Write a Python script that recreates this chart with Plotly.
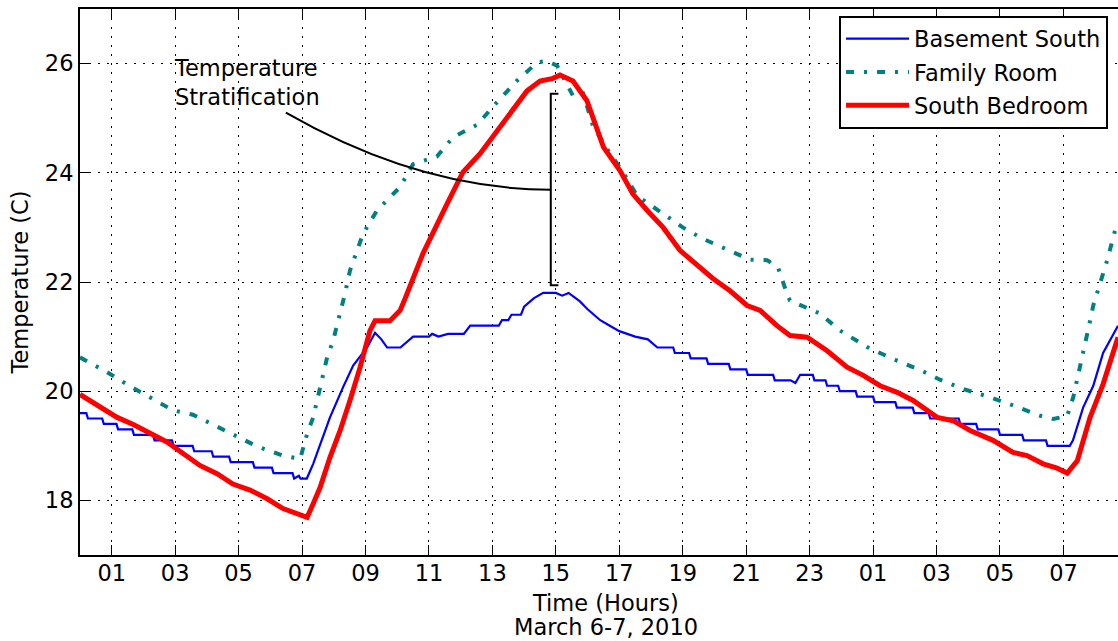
import plotly.graph_objects as go

# ---- Data: hours since midnight March 6, temperatures in deg C ----
basement_hours = [0.0, 0.2, 0.25, 0.7, 0.75, 1.15, 1.2, 1.65, 1.7, 2.3, 2.35, 2.9, 2.95, 3.55,
                  3.6, 4.15, 4.2, 4.7, 4.75, 5.45, 5.5, 6.05, 6.1, 6.7, 6.75, 6.9, 6.95, 7.15,
                  7.35, 7.57, 7.88, 8.29, 8.61, 9.05, 9.3, 9.5, 9.68, 10.1, 10.3, 10.5, 11.0,
                  11.1, 11.3, 11.6, 12.1, 12.3, 13.2, 13.3, 13.5, 13.6, 13.9, 14.0, 14.3, 14.6,
                  15.0, 15.2, 15.4, 15.75, 16.0, 16.4, 16.7, 17.0, 17.5, 17.9, 18.2, 18.7,
                  18.75, 19.2, 19.25, 19.75, 19.8, 20.45, 20.5, 21.0, 21.05, 21.85, 21.9, 22.4,
                  22.55, 22.7, 23.1, 23.15, 23.5, 23.55, 23.9, 23.95, 24.45, 24.5, 25.0, 25.05,
                  25.7, 25.75, 26.25, 26.3, 26.75, 26.8, 27.7, 27.75, 28.25, 28.3, 28.95, 29.0,
                  29.7, 29.75, 30.45, 30.5, 31.2, 31.3, 31.62, 31.94, 32.25, 32.72]
basement_temp = [19.6, 19.6, 19.5, 19.5, 19.4, 19.4, 19.3, 19.3, 19.2, 19.2, 19.1, 19.1, 19.0, 19.0,
                 18.9, 18.9, 18.8, 18.8, 18.7, 18.7, 18.6, 18.6, 18.5, 18.5, 18.4, 18.45, 18.4, 18.4,
                 18.67, 19.04, 19.52, 20.07, 20.47, 20.8, 21.07, 20.95, 20.8, 20.8, 20.9, 21.0, 21.0,
                 21.05, 21.0, 21.05, 21.05, 21.2, 21.2, 21.3, 21.3, 21.4, 21.4, 21.55, 21.7, 21.8,
                 21.8, 21.75, 21.8, 21.65, 21.5, 21.3, 21.2, 21.1, 21.0, 20.95, 20.8, 20.8,
                 20.7, 20.7, 20.6, 20.6, 20.5, 20.5, 20.4, 20.4, 20.3, 20.3, 20.2, 20.2,
                 20.15, 20.3, 20.3, 20.2, 20.2, 20.1, 20.1, 20.0, 20.0, 19.9, 19.9, 19.8,
                 19.8, 19.7, 19.7, 19.6, 19.6, 19.5, 19.5, 19.4, 19.4, 19.3, 19.3, 19.2,
                 19.2, 19.1, 19.1, 19.0, 19.0, 19.1, 19.7, 20.1, 20.7, 21.2]

family_hours = [0.0, 0.85, 1.58, 2.21, 2.93, 3.56, 4.32, 4.82, 5.58, 6.4, 6.94, 7.16, 7.35, 7.57,
                7.79, 7.98, 8.2, 8.35, 8.51, 8.92, 9.36, 10.09, 10.5, 11.25, 11.76, 12.52, 13.14,
                13.78, 14.41, 14.72, 15.04, 15.54, 15.86, 16.17, 16.71, 17.09, 17.56, 18.28, 19.0,
                19.64, 20.33, 21.12, 21.66, 22.0, 22.32, 22.38, 23.33, 23.96, 24.81, 25.63, 26.48,
                27.11, 27.84, 28.69, 29.41, 30.27, 30.68, 31.12, 31.31, 31.53, 31.84, 31.94,
                32.38, 32.63, 32.72]
family_temp = [20.62, 20.35, 20.09, 19.89, 19.65, 19.57, 19.35, 19.19, 18.99, 18.82, 18.76, 19.22,
               19.52, 20.07, 20.62, 20.93, 21.42, 21.78, 22.21, 22.88, 23.31, 23.74, 24.16, 24.3,
               24.65, 24.88, 25.29, 25.69, 26.02, 26.05, 25.96, 25.41, 25.45, 24.86, 24.35, 24.04,
               23.58, 23.28, 23.0, 22.79, 22.61, 22.41, 22.4, 22.27, 21.73, 21.66, 21.42, 21.11,
               20.81, 20.59, 20.39, 20.21, 20.04, 19.89, 19.74, 19.55, 19.49, 19.55, 19.89,
               20.44, 21.29, 21.57, 22.4, 22.95, 23.05]

bedroom_hours = [0.0, 0.63, 1.17, 1.68, 2.21, 2.74, 3.25, 3.78, 4.32, 4.82, 5.36, 5.9, 6.4, 6.94,
                 7.16, 7.35, 7.57, 7.88, 8.2, 8.51, 8.83, 9.14, 9.3, 9.77, 10.09, 10.25, 10.81,
                 11.57, 12.07, 12.61, 13.14, 13.65, 14.09, 14.5, 14.91, 15.13, 15.54, 15.98,
                 16.3, 16.5, 17.02, 17.43, 17.88, 18.38, 18.91, 19.45, 19.96, 20.49, 21.03,
                 21.44, 21.97, 22.38, 22.92, 23.55, 24.18, 24.69, 25.22, 25.76, 26.26, 27.02,
                 27.52, 28.06, 28.78, 29.41, 29.85, 30.36, 30.8, 31.12, 31.44, 31.84, 32.25, 32.72]
bedroom_temp = [19.94, 19.71, 19.52, 19.39, 19.22, 19.07, 18.86, 18.64, 18.49, 18.3, 18.19, 18.03,
                17.85, 17.75, 17.69, 17.94, 18.24, 18.79, 19.28, 19.83, 20.44, 21.11, 21.29, 21.29,
                21.48, 21.7, 22.52, 23.43, 24.01, 24.35, 24.77, 25.17, 25.5, 25.68, 25.73, 25.79,
                25.68, 25.32, 24.83, 24.47, 24.04, 23.61, 23.31, 23.0, 22.58, 22.31, 22.06, 21.84,
                21.57, 21.48, 21.2, 21.02, 20.99, 20.74, 20.44, 20.29, 20.1, 19.98, 19.83, 19.52,
                19.46, 19.28, 19.1, 18.88, 18.82, 18.67, 18.59, 18.5, 18.73, 19.52, 20.13, 20.99]

tick_hours = [1, 3, 5, 7, 9, 11, 13, 15, 17, 19, 21, 23, 25, 27, 29, 31]
tick_labels = ["01", "03", "05", "07", "09", "11", "13", "15", "17", "19", "21", "23",
               "01", "03", "05", "07"]
temp_ticks = [18, 20, 22, 24, 26]

FONT = "DejaVu Sans"
FS = 22.5
txt = dict(family=FONT, size=FS, color="black")

fig = go.Figure()
fig.add_trace(go.Scatter(x=basement_hours, y=basement_temp, mode="lines",
                         name="Basement South", legendgroup="a",
                         line=dict(color="#0000ff", width=2.2)))
fig.add_trace(go.Scatter(x=family_hours, y=family_temp, mode="lines",
                         name="Family Room", legendgroup="b",
                         line=dict(color="#008080", width=4, dash="8px,10px,3px,10px")))
fig.add_trace(go.Scatter(x=bedroom_hours, y=bedroom_temp, mode="lines",
                         name="South Bedroom", legendgroup="c",
                         line=dict(color="#ff0000", width=5)))

# Bracket spanning the gap between the warmest and coolest rooms at mid-afternoon
bracket_x, bracket_cap_x = 14.84, 15.08
bracket_low, bracket_high = 21.94, 25.45
curve_start = (6.49, 25.10)
curve_ctrl = (10.72, 23.69)
curve_end = (14.84, 23.69)

shapes = [
    dict(type="path", xref="x", yref="y",
         path=f"M{bracket_cap_x},{bracket_high} L{bracket_x},{bracket_high} "
              f"L{bracket_x},{bracket_low} L{bracket_cap_x},{bracket_low}",
         line=dict(color="black", width=2)),
    dict(type="path", xref="x", yref="y",
         path=f"M{curve_start[0]},{curve_start[1]} Q{curve_ctrl[0]},{curve_ctrl[1]} "
              f"{curve_end[0]},{curve_end[1]}",
         line=dict(color="black", width=2)),
]

annotations = [
    dict(text="Temperature<br>Stratification", x=2.89, y=25.65, xref="x", yref="y",
         xanchor="left", yanchor="middle", align="left", showarrow=False, font=txt),
    dict(text="Time (Hours)", x=0.5067, y=-0.088, xref="paper", yref="paper",
         xanchor="center", yanchor="middle", showarrow=False, font=txt),
    dict(text="March 6-7, 2010", x=0.5067, y=-0.131, xref="paper", yref="paper",
         xanchor="center", yanchor="middle", showarrow=False, font=txt),
]

fig.update_layout(
    width=1118, height=641,
    margin=dict(l=80, r=0, t=9, b=86, pad=0),
    paper_bgcolor="white", plot_bgcolor="white",
    font=txt,
    shapes=shapes, annotations=annotations,
    showlegend=True,
    legend=dict(x=0.9904, y=0.988, xanchor="right", yanchor="top",
                bgcolor="white", bordercolor="black", borderwidth=2,
                font=txt, itemwidth=63, tracegroupgap=1, traceorder="grouped"),
)

fig.update_xaxes(
    range=[0, 32.72], tickmode="array", tickvals=tick_hours, ticktext=tick_labels,
    ticks="inside", ticklen=10, tickwidth=1, tickcolor="black",
    showline=True, linecolor="black", linewidth=2, mirror="ticks",
    showgrid=True, gridcolor="black", gridwidth=1, griddash="2px,7px",
    zeroline=False, tickfont=txt, ticklabelstandoff=-3,
)
fig.update_yaxes(
    range=[17, 27], tickmode="array", tickvals=temp_ticks,
    ticks="inside", ticklen=10, tickwidth=1, tickcolor="black",
    showline=True, linecolor="black", linewidth=2, mirror=False,
    showgrid=True, gridcolor="black", gridwidth=1, griddash="2px,7px",
    zeroline=False, tickfont=txt,
    title=dict(text="Temperature (C)", font=txt, standoff=10),
)

fig.write_html("out.html")
